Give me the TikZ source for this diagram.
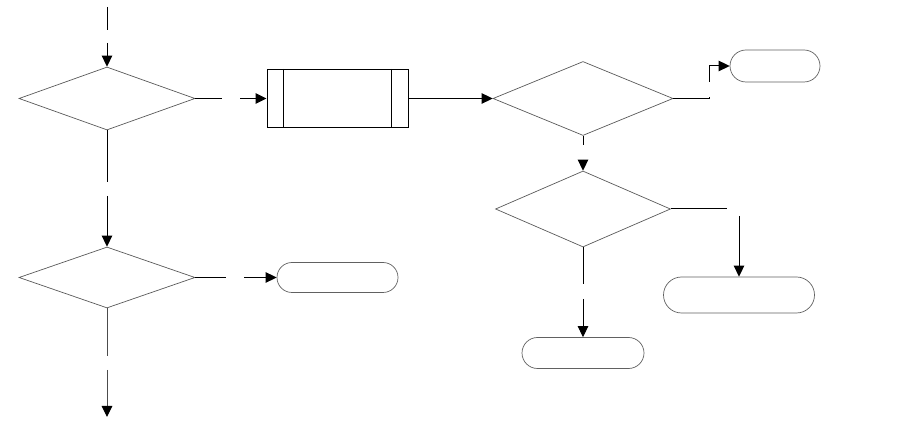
\documentclass[tikz,border=0pt]{standalone}
\usetikzlibrary{shapes.geometric,arrows.meta}
\begin{document}
\begin{tikzpicture}[x=1pt,y=-1pt,
  decision/.style={draw=black!65,line width=0.7pt,shape=diamond,inner sep=0pt},
  terminal/.style={draw=black!62,line width=0.7pt,rectangle,inner sep=0pt},
  predef/.style={draw=black,line width=1pt,rectangle,inner sep=0pt},
  conn/.style={draw=black,line width=1pt},
  arr/.style={conn,-{Triangle[length=11pt,width=10.5pt,color=black]}}]
\useasboundingbox (0,0) rectangle (900,427);
% nodes
\node[decision,minimum width=176pt,minimum height=63pt] (d1) at (107,98.5) {};
\node[decision,minimum width=176pt,minimum height=61pt] (d4) at (107,277.5) {};
\node[decision,minimum width=180pt,minimum height=74pt] (d2) at (583,98.5) {};
\node[decision,minimum width=175pt,minimum height=76pt] (d3) at (583,209) {};
\node[predef,minimum width=141pt,minimum height=58pt] (box) at (337.5,98.5) {};
\draw[line width=1pt] ([xshift=17pt]box.north west) -- ([xshift=17pt]box.south west);
\draw[line width=1pt] ([xshift=-17pt]box.north east) -- ([xshift=-17pt]box.south east);
\node[terminal,minimum width=90pt,minimum height=32pt,rounded corners=16pt] (t1) at (775,66) {};
\node[terminal,minimum width=122pt,minimum height=31pt,rounded corners=15.5pt] (t2) at (583,353) {};
\node[terminal,minimum width=151pt,minimum height=36pt,rounded corners=18pt] (t3) at (739,295) {};
\node[terminal,minimum width=121pt,minimum height=30pt,rounded corners=15pt] (t4) at (337.5,277.5) {};
% free ends and gap coordinates
\coordinate (start) at (107,7);
\coordinate (g0a) at (107,30);  \coordinate (g0b) at (107,43);
\coordinate (g1a) at (222,98.5); \coordinate (g1b) at (240,98.5);
\coordinate (g2c) at (709,98.5); \coordinate (g2a) at (709,97); \coordinate (g2b) at (709,82); \coordinate (g2d) at (709,66);
\coordinate (g3a) at (583,145); \coordinate (g3b) at (583,160);
\coordinate (g4a) at (727,209); \coordinate (g4b) at (739,216);
\coordinate (g5a) at (583,284); \coordinate (g5b) at (583,299);
\coordinate (g6a) at (107,182); \coordinate (g6b) at (107,196);
\coordinate (g7a) at (226,277.5); \coordinate (g7b) at (244,277.5);
\coordinate (g8a) at (107,356); \coordinate (g8b) at (107,370);
\coordinate (finish) at (107,417);
% connectors
\draw[conn] (start) -- (g0a);
\draw[arr] (g0b) -- (d1.north);
\draw[conn] (d1.east) -- (g1a);
\draw[arr] (g1b) -- (box.west);
\draw[arr] (box.east) -- (d2.west);
\draw[conn] (d2.east) -- (g2c) -- (g2a);
\draw[arr] (g2b) -- (g2d) -- (t1.west);
\draw[conn] (d2.south) -- (g3a);
\draw[arr] (g3b) -- (d3.north);
\draw[conn] (d3.east) -- (g4a);
\draw[arr] (g4b) -- (t3.north);
\draw[conn] (d3.south) -- (g5a);
\draw[arr] (g5b) -- (t2.north);
\draw[conn] (d1.south) -- (g6a);
\draw[arr] (g6b) -- (d4.north);
\draw[conn] (d4.east) -- (g7a);
\draw[arr] (g7b) -- (t4.west);
\draw[conn,draw=black!70] (d4.south) -- (g8a);
\draw[arr,draw=black!70] (g8b) -- (finish);
\end{tikzpicture}
\end{document}
